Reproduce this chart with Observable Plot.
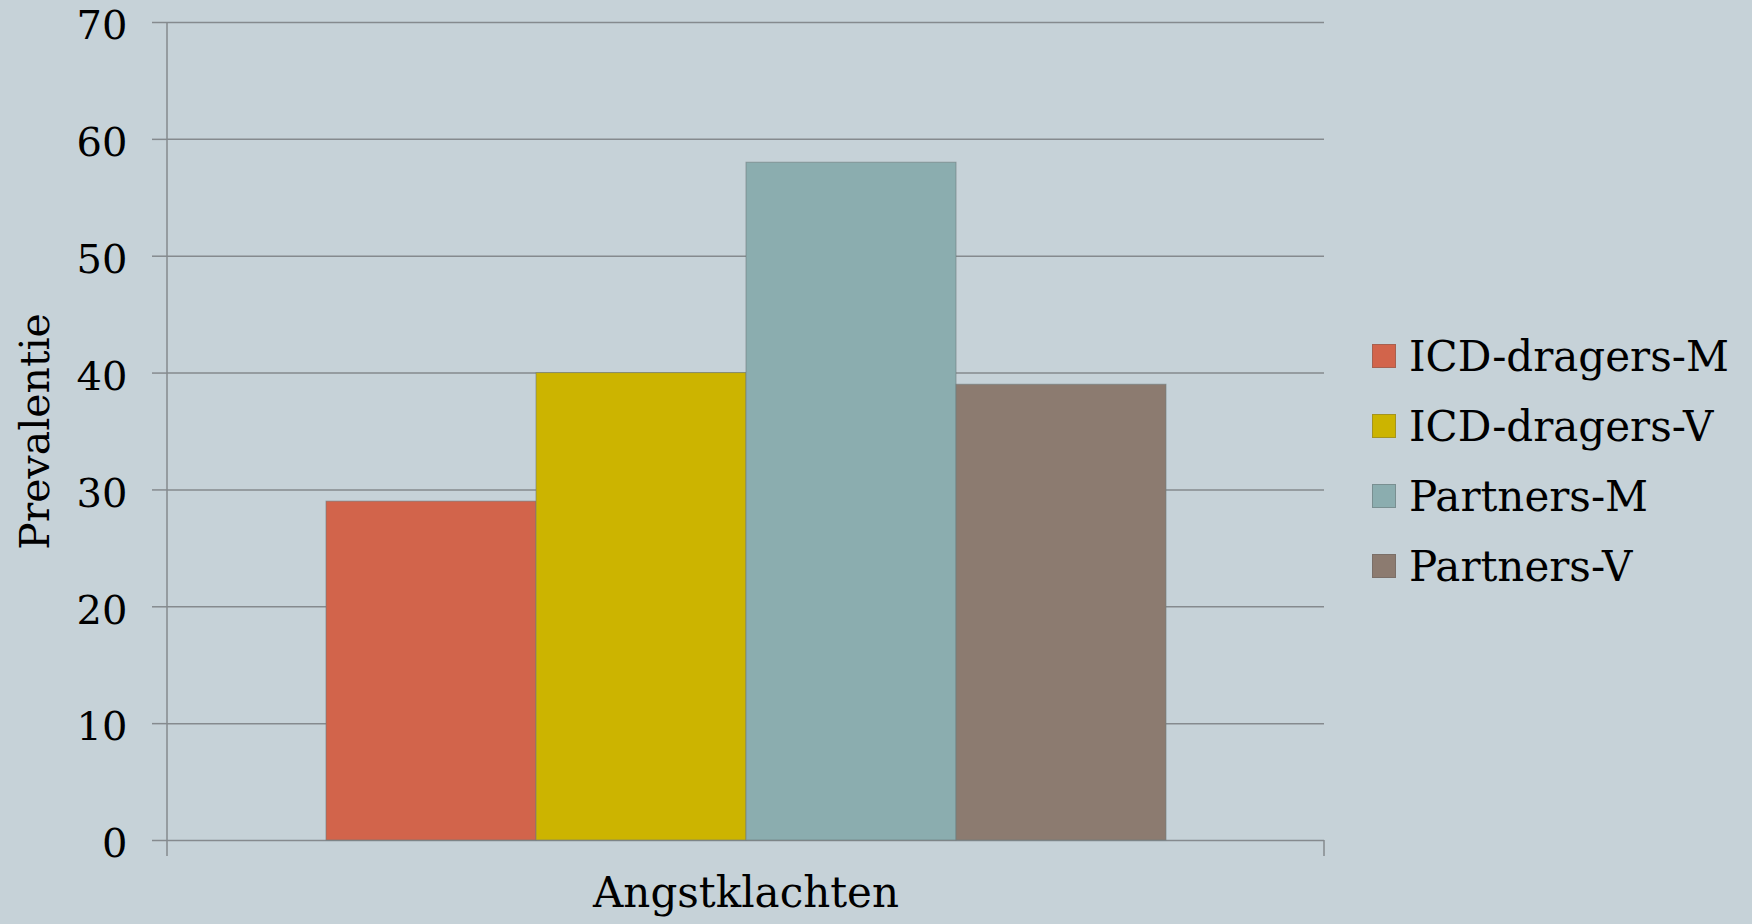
<!DOCTYPE html>
<html><head><meta charset="utf-8">
<script src="https://cdn.jsdelivr.net/npm/d3@7"></script>
<script src="https://cdn.jsdelivr.net/npm/@observablehq/plot@0.6"></script>
<style>
html,body{margin:0;padding:0;background:#c6d2d8;}
#wrap{position:relative;width:1752px;height:924px;overflow:hidden;}
#legend{position:absolute;left:1372px;top:321px;font-family:"DejaVu Serif";font-size:42px;color:#000;}
.row{display:flex;align-items:center;height:70px;white-space:nowrap;}
.sw{width:24px;height:24px;box-sizing:border-box;border:1px solid rgba(90,90,90,0.35);margin-right:13px;flex:none;}
</style></head><body><div id="wrap"><div id="chart"></div><div id="legend"></div></div>
<script>
const categories = ["Angstklachten"];
const series = ["ICD-dragers-M", "ICD-dragers-V", "Partners-M", "Partners-V"];
const values = [29, 40, 58, 39];
const colors = ["#d2644b", "#ccb400", "#8badaf", "#8c7b70"];
const yTicks = [0, 10, 20, 30, 40, 50, 60, 70];

const data = series.map((s, i) => ({category: categories[0], series: s, value: values[i]}));
const gridColor = "#858a8e";

const axisLines = (index, scales, vals, dims) => {
  const g = d3.create("svg:g").attr("stroke", gridColor).attr("stroke-width", 1.5);
  const L = dims.marginLeft, R = dims.width - dims.marginRight, T = dims.marginTop, B = dims.height - dims.marginBottom;
  g.append("line").attr("x1", L).attr("x2", L).attr("y1", T).attr("y2", B + 16);
  g.append("line").attr("x1", R).attr("x2", R).attr("y1", B).attr("y2", B + 16);
  return g.node();
};

const chart = Plot.plot({
  width: 1752, height: 924,
  marginLeft: 167, marginRight: 428, marginTop: 22, marginBottom: 84,
  style: {background: "transparent", fontFamily: "DejaVu Serif", color: "#000", overflow: "visible"},
  fx: {domain: categories, padding: 0, label: null},
  x: {domain: series, paddingInner: 0, paddingOuter: 0.75, axis: null},
  y: {domain: [0, 70]},
  color: {domain: series, range: colors},
  marks: [
    Plot.gridY(yTicks, {stroke: gridColor, strokeOpacity: 1, strokeWidth: 1.5}),
    Plot.barY(data, {fx: "category", x: "series", y: "value", fill: "series", stroke: "#6f7b7d", strokeOpacity: 0.6, strokeWidth: 1, inset: 0}),
    Plot.axisY(yTicks, {tickSize: 15, stroke: gridColor, strokeWidth: 1.5, strokeOpacity: 1, fontSize: 41, tickFormat: () => null,
      label: "Prevalentie", labelAnchor: "center", labelArrow: "none", labelOffset: 148}),
    Plot.axisY(yTicks, {tickSize: 0, tickPadding: 40, dy: 4, fontSize: 40, label: null}),
    Plot.axisFx({anchor: "bottom", tickSize: 0, tickPadding: 37, fontSize: 42, label: null}),
    axisLines
  ]
});
document.getElementById("chart").appendChild(chart);

const legend = document.getElementById("legend");
series.forEach((s, i) => {
  const row = document.createElement("div");
  row.className = "row";
  const sw = document.createElement("span");
  sw.className = "sw";
  sw.style.background = colors[i];
  const t = document.createElement("span");
  t.textContent = s;
  row.appendChild(sw); row.appendChild(t);
  legend.appendChild(row);
});
</script></body></html>
